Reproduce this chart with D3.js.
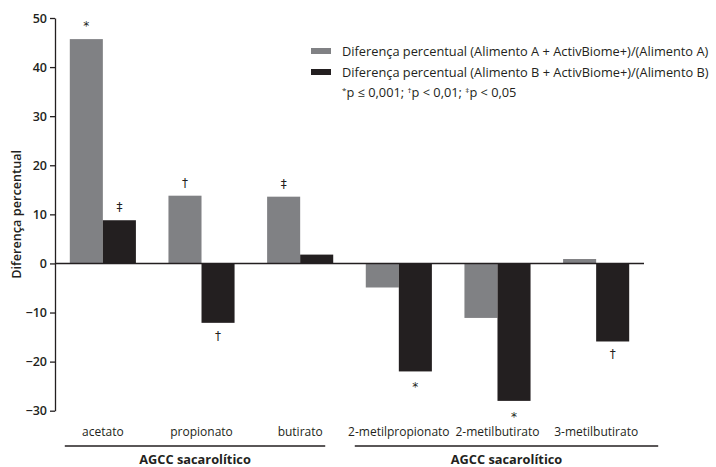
<!DOCTYPE html>
<html>
<head>
<meta charset="utf-8">
<script src="https://cdn.jsdelivr.net/npm/d3@7"></script>
<style>
    body { margin: 0; background: #fff; }
    text { font-family: "Open Sans", sans-serif; fill: #231f20; }
    .axis path, .axis line { stroke: #231f20; stroke-width: 1.3; }
    .axis text { font-size: 12.5px; font-weight: 600; }
    .mark { font-family: "DejaVu Sans", sans-serif; fill: #231f20; }
</style>
</head>
<body>
<script>
//self-executing anonymous function to keep things local
(function(){

//chart data
var categories = ["acetato", "propionato", "butirato", "2-metilpropionato", "2-metilbutirato", "3-metilbutirato"];
var seriesNames = ["Diferença percentual (Alimento A + ActivBiome+)/(Alimento A)",
                   "Diferença percentual (Alimento B + ActivBiome+)/(Alimento B)"];
var valuesA = [45.7, 13.8, 13.6, -4.9, -11.1, 0.9];
var valuesB = [8.8, -12.1, 1.8, -22.0, -28.0, -15.9];
var marksA = ["*", "†", "‡", "", "", ""];
var marksB = ["‡", "†", "", "*", "*", "†"];
var yTicks = [-30, -20, -10, 0, 10, 20, 30, 40, 50];
var groupLabels = ["AGCC sacarolítico", "AGCC sacarolítico"];
var groupRanges = [[0, 2], [3, 5]];
var colors = ["#808184", "#231f20"];

var width = 716, height = 467;

var svg = d3.select("body")
    .append("svg")
    .attr("width", width)
    .attr("height", height);

//scales
var x = d3.scaleBand()
    .domain(categories)
    .range([55, 644])
    .paddingInner(0.33)
    .paddingOuter(0.15);

var sub = d3.scaleBand()
    .domain([0, 1])
    .range([0, x.bandwidth()]);

var y = d3.scaleLinear()
    .domain([-30, 50])
    .range([410.7, 18]);

//y axis
svg.append("g")
    .attr("class", "axis")
    .attr("transform", "translate(55,0)")
    .call(d3.axisLeft(y)
        .tickValues(yTicks)
        .tickSize(5)
        .tickSizeOuter(0)
        .tickPadding(3));

svg.append("text")
    .attr("transform", "translate(21," + ((y(50) + y(-30)) / 2) + ") rotate(-90)")
    .attr("text-anchor", "middle")
    .style("font-size", "12.7px")
    .style("font-weight", 600)
    .text("Diferença percentual");

//bars, one series at a time
var series = [valuesA, valuesB];
var marks = [marksA, marksB];

series.forEach(function(vals, s){
    var rows = categories.map(function(c, i){ return {cat: c, v: vals[i], m: marks[s][i]}; });

    svg.selectAll(".bar" + s)
        .data(rows)
        .enter()
        .append("rect")
        .attr("class", "bar" + s)
        .attr("x", function(d){ return x(d.cat) + sub(s); })
        .attr("width", sub.bandwidth())
        .attr("y", function(d){ return y(Math.max(0, d.v)); })
        .attr("height", function(d){ return Math.abs(y(d.v) - y(0)); })
        .style("fill", colors[s]);

    //significance marks above or below the bar end
    svg.selectAll(".mark" + s)
        .data(rows.filter(function(d){ return d.m; }))
        .enter()
        .append("text")
        .attr("class", "mark mark" + s)
        .attr("text-anchor", "middle")
        .attr("x", function(d){ return x(d.cat) + sub(s) + sub.bandwidth() / 2; })
        .attr("y", function(d){
            return d.v >= 0 ? y(d.v) - 9 : y(d.v) + (d.m == "*" ? 20 : 17);
        })
        .style("font-size", "12px")
        .text(function(d){ return d.m; });
});

//zero line
svg.append("line")
    .attr("x1", 55)
    .attr("x2", x.range()[1])
    .attr("y1", y(0))
    .attr("y2", y(0))
    .style("stroke", "#231f20")
    .style("stroke-width", 1.5);

//category labels
svg.selectAll(".catLabel")
    .data(categories)
    .enter()
    .append("text")
    .attr("class", "catLabel")
    .attr("text-anchor", "middle")
    .attr("x", function(d){ return x(d) + x.bandwidth() / 2; })
    .attr("y", 436)
    .style("font-size", "12px")
    .style("font-weight", 500)
    .text(function(d){ return d; });

//group underlines and labels
var groupPad = [[-5, -8], [-11, 29]];
groupRanges.forEach(function(r, g){
    var x1 = x(categories[r[0]]) + groupPad[g][0],
        x2 = x(categories[r[1]]) + x.bandwidth() + groupPad[g][1];

    svg.append("line")
        .attr("x1", x1)
        .attr("x2", x2)
        .attr("y1", 446)
        .attr("y2", 446)
        .style("stroke", "#231f20")
        .style("stroke-width", 1.3);

    svg.append("text")
        .attr("text-anchor", "middle")
        .attr("x", (x1 + x2) / 2)
        .attr("y", 464)
        .style("font-size", "12.8px")
        .style("font-weight", 700)
        .text(groupLabels[g]);
});

//legend
var legend = svg.selectAll(".legend")
    .data(seriesNames)
    .enter()
    .append("g")
    .attr("class", "legend")
    .attr("transform", function(d, i){ return "translate(311," + (51 + i * 21) + ")"; });

legend.append("rect")
    .attr("x", 0)
    .attr("y", -3)
    .attr("width", 20)
    .attr("height", 6)
    .style("fill", function(d, i){ return colors[i]; });

legend.append("text")
    .attr("x", 31)
    .attr("y", 4.5)
    .style("font-size", "12.8px")
    .text(function(d){ return d; });

//p value note with superscript symbols
var note = svg.append("text")
    .attr("x", 342)
    .attr("y", 97)
    .style("font-size", "12.8px");

[["*", "p ≤ 0,001; "], ["†", "p < 0,01; "], ["‡", "p < 0,05"]].forEach(function(p){
    note.append("tspan").attr("dy", -4).style("font-size", "8px").text(p[0]);
    note.append("tspan").attr("dy", 4).text(p[1]);
});

})();
</script>
</body>
</html>
